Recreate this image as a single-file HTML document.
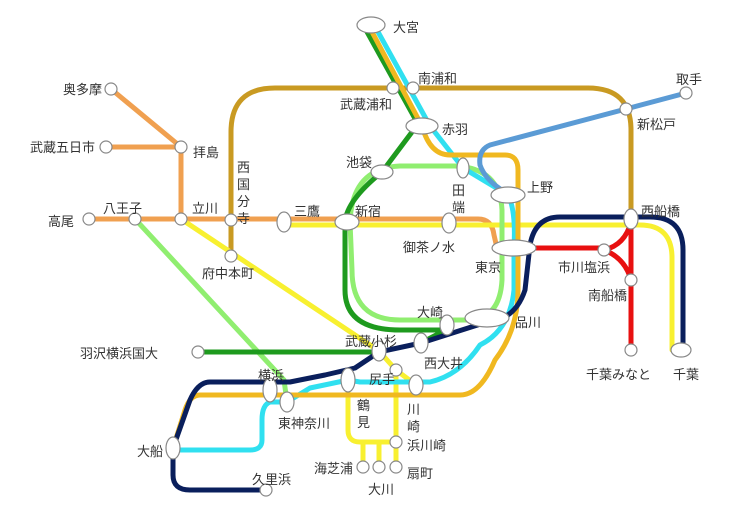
<!DOCTYPE html>
<html><head><meta charset="utf-8"><style>
html,body{margin:0;padding:0;background:#fff}
svg{display:block}
text{font-family:"Liberation Sans","Noto Sans CJK JP",sans-serif;font-size:13px;fill:#333}
.l{fill:none;stroke-width:5;stroke-linecap:round;stroke-linejoin:round}
.s{fill:#fff;stroke:#888;stroke-width:1.2}
</style></head><body>
<svg width="743" height="510" viewBox="0 0 743 510">
<!-- Musashino -->
<path class="l" stroke="#c99a22" d="M231,256 V132 Q231,88 275,88 H588 Q631,88 631,130 V219"/>
<!-- Chuo orange -->
<path class="l" stroke="#f0a050" d="M111,89 L181,147 M106,147 H181 V219 M89,219 H478 Q492,219 494,235 L497,248"/>
<!-- Sobu yellow -->
<path class="l" stroke="#f8f030" d="M284,225 H640 Q672,225 672,258 V350"/>
<!-- Nambu yellow -->
<path class="l" stroke="#f8f030" d="M181,219 L379,351 L396,370 L416,385 M396,370 V467 M348,380 V430 Q348,442 360,442 H396 M363,442 V467 M379,442 V467"/>
<!-- Yokohama line -->
<path class="l" stroke="#90ee70" d="M135,219 L284,380 L287,402"/>
<!-- Yamanote -->
<path class="l" stroke="#90ee70" d="M350,222 Q352,168 400,166 H455 Q500,168 502,210 V280 Q500,318 470,320 H400 Q352,320 352,270 Z"/>
<!-- Saikyo green -->
<path class="l" stroke="#1e9a1e" d="M366,30 L418,124 L382,172 Q347,200 345,222 V290 Q345,330 400,330 H440 L447,325 M198,352 H379 M440,333 L421,343"/>
<!-- Keihin-Tohoku cyan -->
<path class="l" stroke="#30e0f0" d="M377,30 L430,126 L463,168 L508,195 Q516,210 514,248 V290 Q510,330 480,345 Q460,375 430,382 H360 L348,380 L310,388 L287,402 H270 Q262,405 262,420 V440 Q262,450 250,450 H173"/>
<!-- Tokaido ochre -->
<path class="l" stroke="#f0b820" d="M371,30 L422,126 Q430,155 450,155 H505 Q518,155 518,170 V290 Q518,330 495,360 Q480,395 460,395 H200 Q190,395 185,410 L173,448"/>
<!-- Joban blue -->
<path class="l" stroke="#5b9bd5" d="M686,93 L626,109 L490,145 Q478,150 480,165 Q485,180 505,192"/>
<!-- Keiyo red -->
<path class="l" stroke="#e81010" d="M525,248 H604 M604,250 Q625,245 631,222 M604,250 Q625,258 631,280 M631,219 V350"/>
<!-- Navy -->
<path class="l" stroke="#0a1f5c" d="M683,350 V250 Q683,217 650,217 H560 Q535,217 530,245 L525,290 Q515,320 487,322 L421,343 L379,352 L355,368 L325,375 L290,382 H210 Q198,382 190,400 L173,448 V475 Q173,490 190,490 H266"/>
<!-- Stations -->
<ellipse class="s" cx="371" cy="25" rx="14" ry="8"/>
<circle class="s" cx="393" cy="88" r="6"/><circle class="s" cx="413" cy="88" r="6"/>
<ellipse class="s" cx="422" cy="126" rx="16" ry="8"/>
<ellipse class="s" cx="382" cy="172" rx="11" ry="7"/>
<ellipse class="s" cx="463" cy="168" rx="6" ry="10"/>
<ellipse class="s" cx="508" cy="195" rx="17" ry="8"/>
<ellipse class="s" cx="347" cy="222" rx="12" ry="8"/>
<ellipse class="s" cx="449" cy="223" rx="7" ry="10"/>
<ellipse class="s" cx="514" cy="248" rx="22" ry="8"/>
<ellipse class="s" cx="447" cy="325" rx="7" ry="10"/>
<ellipse class="s" cx="487" cy="318" rx="22" ry="9"/>
<ellipse class="s" cx="421" cy="343" rx="7" ry="10"/>
<ellipse class="s" cx="379" cy="351" rx="7" ry="10"/>
<circle class="s" cx="396" cy="370" r="6"/>
<ellipse class="s" cx="416" cy="385" rx="7" ry="10"/>
<ellipse class="s" cx="348" cy="380" rx="7" ry="12"/>
<circle class="s" cx="396" cy="442" r="6"/>
<circle class="s" cx="363" cy="467" r="6"/><circle class="s" cx="379" cy="467" r="6"/><circle class="s" cx="396" cy="467" r="6"/>
<ellipse class="s" cx="270" cy="390" rx="7" ry="12"/>
<ellipse class="s" cx="287" cy="402" rx="7" ry="10"/>
<ellipse class="s" cx="173" cy="448" rx="7" ry="11"/>
<circle class="s" cx="266" cy="490" r="6"/>
<circle class="s" cx="198" cy="352" r="6"/>
<circle class="s" cx="231" cy="256" r="6"/>
<circle class="s" cx="231" cy="220" r="6"/>
<circle class="s" cx="181" cy="219" r="6"/>
<circle class="s" cx="135" cy="219" r="6"/>
<circle class="s" cx="89" cy="219" r="6"/>
<circle class="s" cx="181" cy="147" r="6"/>
<circle class="s" cx="106" cy="147" r="6"/>
<circle class="s" cx="111" cy="89" r="6"/>
<ellipse class="s" cx="284" cy="222" rx="7" ry="10"/>
<ellipse class="s" cx="631" cy="219" rx="7" ry="10"/>
<circle class="s" cx="604" cy="250" r="6"/>
<circle class="s" cx="631" cy="280" r="6"/>
<circle class="s" cx="631" cy="350" r="6"/>
<ellipse class="s" cx="681" cy="350" rx="10" ry="7"/>
<circle class="s" cx="626" cy="109" r="6"/>
<circle class="s" cx="686" cy="93" r="6"/>
<!-- Labels -->
<text x="393" y="32">大宮</text>
<text x="418" y="83">南浦和</text>
<text x="340" y="109">武蔵浦和</text>
<text x="442" y="134">赤羽</text>
<text x="346" y="167">池袋</text>
<text x="452" y="195">田</text><text x="452" y="212">端</text>
<text x="527" y="192">上野</text>
<text x="355" y="216">新宿</text>
<text x="403" y="252">御茶ノ水</text>
<text x="475" y="272">東京</text>
<text x="417" y="317">大崎</text>
<text x="515" y="327">品川</text>
<text x="424" y="368">西大井</text>
<text x="345" y="346">武蔵小杉</text>
<text x="369" y="384">尻手</text>
<text x="407" y="414">川</text><text x="407" y="431">崎</text>
<text x="357" y="410">鶴</text><text x="357" y="427">見</text>
<text x="407" y="450">浜川崎</text>
<text x="314" y="473">海芝浦</text>
<text x="368" y="494">大川</text>
<text x="407" y="478">扇町</text>
<text x="258" y="380">横浜</text>
<text x="278" y="428">東神奈川</text>
<text x="137" y="456">大船</text>
<text x="252" y="484">久里浜</text>
<text x="80" y="358">羽沢横浜国大</text>
<text x="202" y="278">府中本町</text>
<text x="237" y="172">西</text><text x="237" y="189">国</text><text x="237" y="206">分</text><text x="237" y="223">寺</text>
<text x="192" y="213">立川</text>
<text x="103" y="213">八王子</text>
<text x="48" y="226">高尾</text>
<text x="193" y="157">拝島</text>
<text x="30" y="152">武蔵五日市</text>
<text x="63" y="94">奥多摩</text>
<text x="294" y="216">三鷹</text>
<text x="641" y="216">西船橋</text>
<text x="558" y="272">市川塩浜</text>
<text x="588" y="300">南船橋</text>
<text x="586" y="379">千葉みなと</text>
<text x="673" y="379">千葉</text>
<text x="637" y="129">新松戸</text>
<text x="676" y="84">取手</text>
</svg>
</body></html>
